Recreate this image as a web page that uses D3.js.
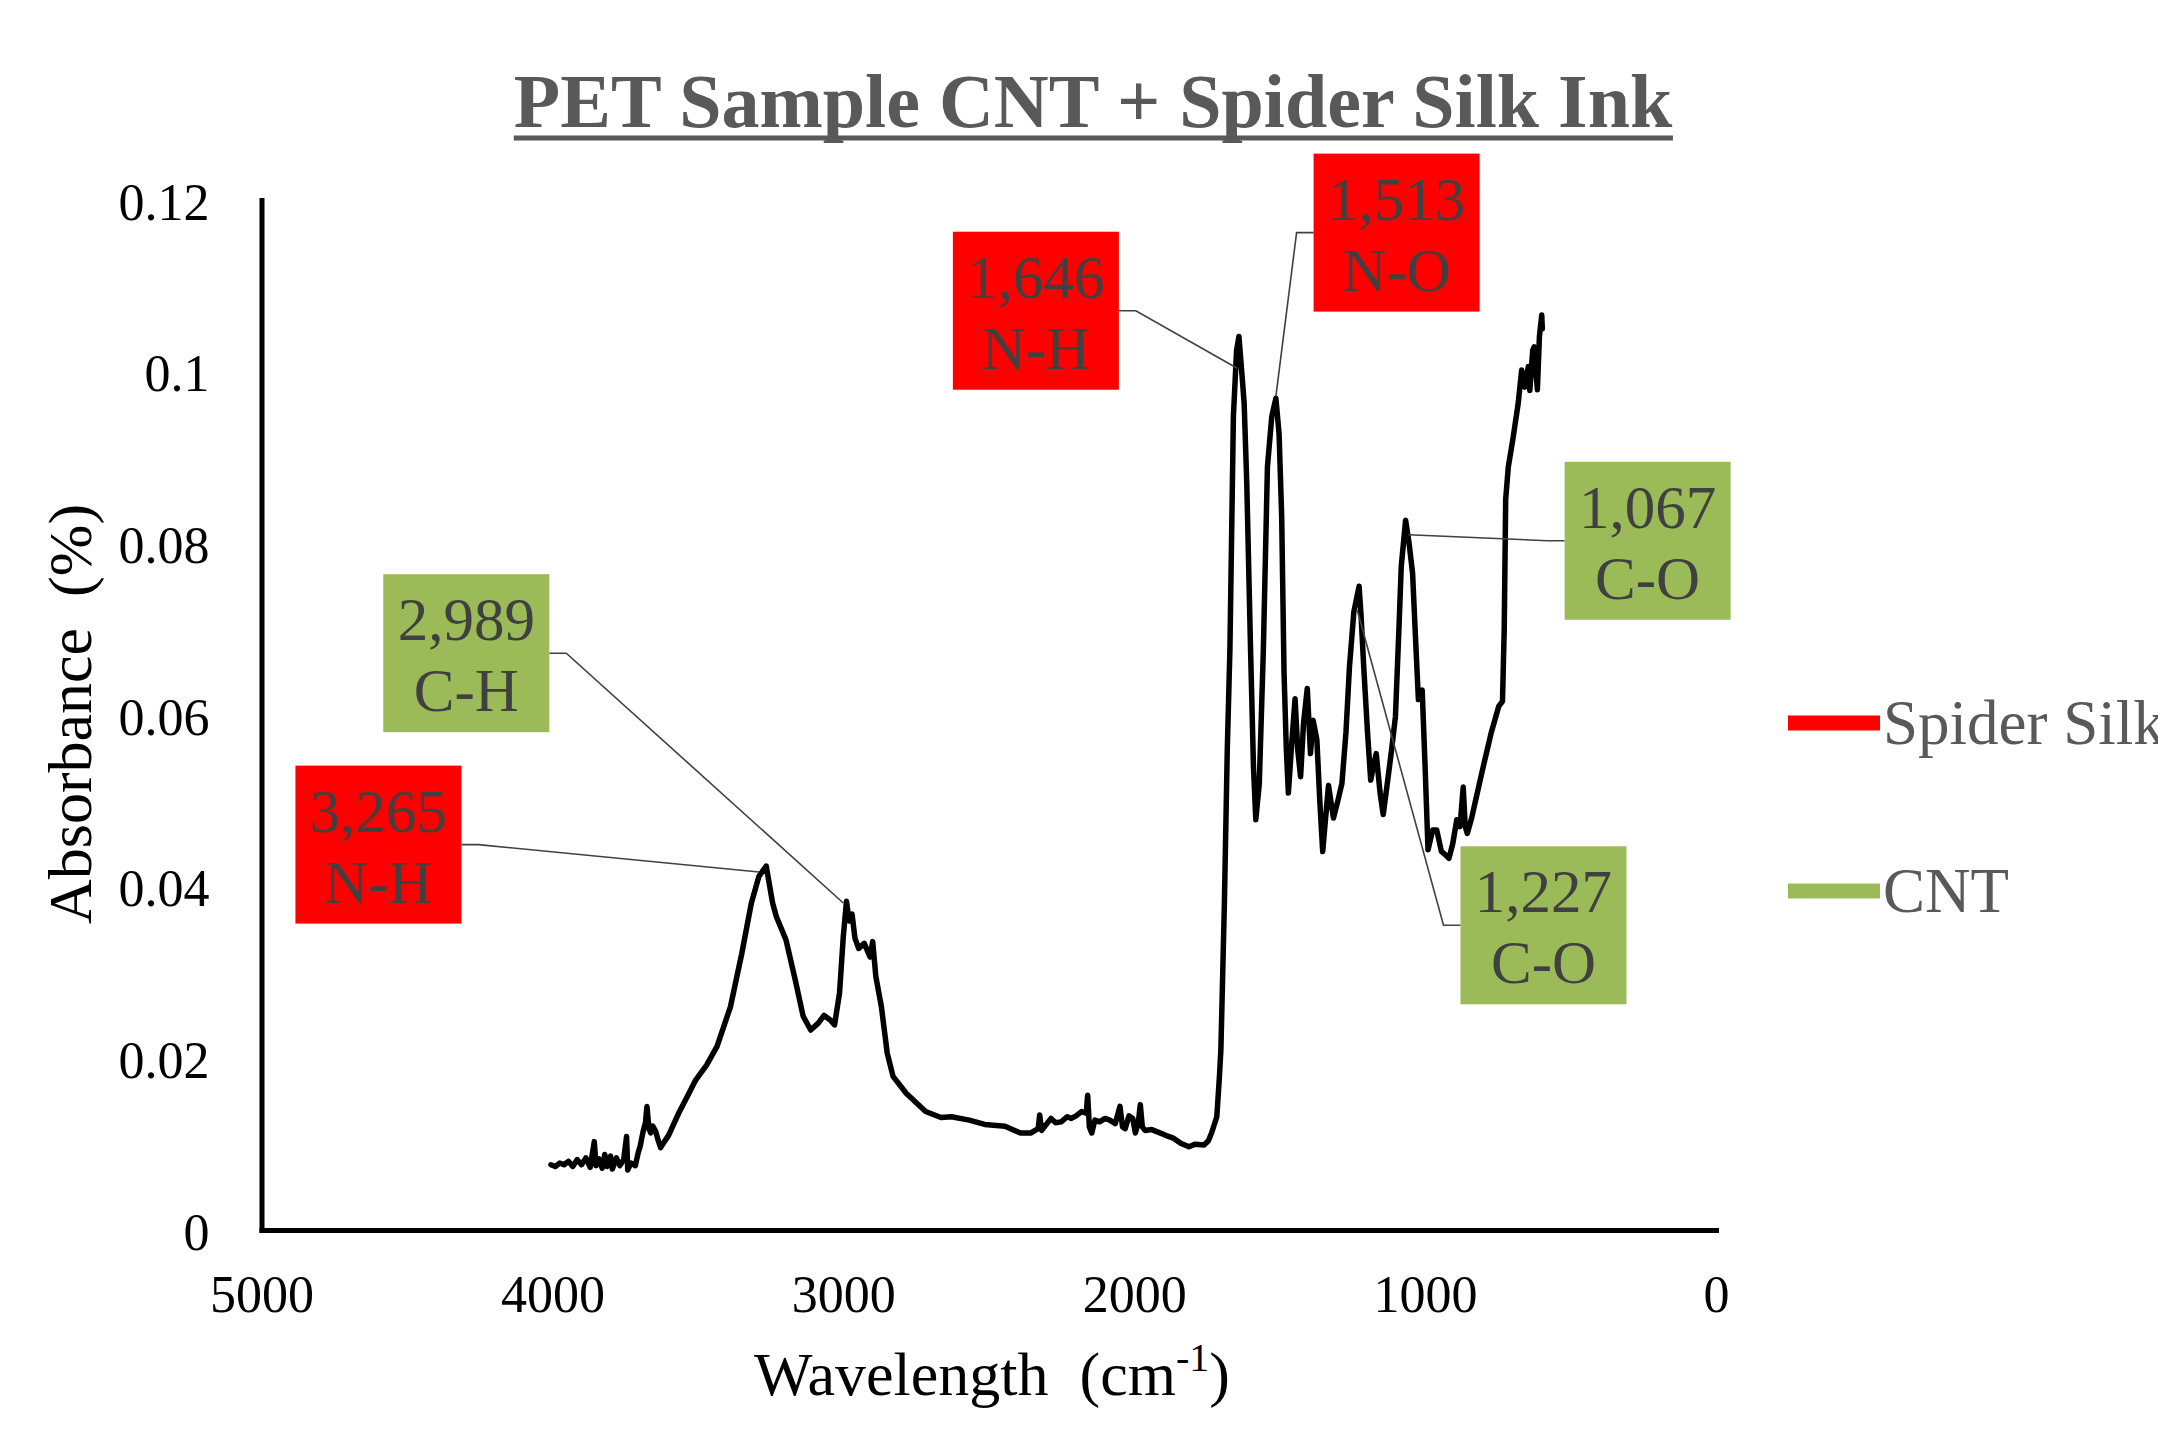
<!DOCTYPE html>
<html><head><meta charset="utf-8">
<script src="https://cdn.jsdelivr.net/npm/d3@7"></script>
<style>body{margin:0;background:#fff}svg{display:block}</style>
</head><body>
<svg id="chart" width="2158" height="1431"></svg>
<script>
// ---- data ----
const wavenumber = [4005,3990,3975,3960,3945,3930,3915,3900,3885,3870,3856,3850,3840,3829,3820,3812,3800,3794,3780,3768,3755,3745,3741,3730,3715,3705,3698,3688,3680,3675,3668,3662,3655,3645,3636,3628,3615,3601,3585,3566,3531,3507,3470,3434,3388,3349,3316,3290,3265,3243,3230,3197,3165,3138,3112,3086,3066,3046,3030,3013,3000,2989,2980,2970,2960,2947,2928,2908,2899,2888,2869,2849,2829,2783,2717,2664,2628,2567,2514,2444,2391,2356,2330,2325,2318,2300,2286,2270,2251,2230,2216,2200,2181,2165,2160,2154,2146,2135,2119,2100,2084,2065,2049,2040,2031,2018,2005,1996,1986,1979,1972,1962,1940,1918,1890,1865,1840,1812,1790,1760,1745,1734,1716,1707,1702,1690,1680,1671,1659,1648,1640,1628,1622,1613,1600,1590,1582,1570,1556,1542,1527,1513,1502,1493,1485,1477,1470,1460,1447,1438,1428,1418,1405,1394,1385,1372,1362,1352,1342,1332,1322,1315,1300,1286,1272,1260,1245,1227,1220,1211,1198,1187,1178,1168,1155,1144,1130,1115,1102,1090,1082,1067,1055,1043,1033,1023,1010,1000,990,974,960,944,930,918,905,891,880,869,862,855,840,826,800,773,747,734,728,723,714,697,680,668,657,645,640,630,625,614,607,599,597];
const absorbance = [0.0076,0.0074,0.0078,0.0076,0.0080,0.0074,0.0082,0.0076,0.0084,0.0073,0.0103,0.0075,0.0083,0.0072,0.0088,0.0074,0.0086,0.0071,0.0084,0.0075,0.0082,0.0109,0.0070,0.0078,0.0075,0.0090,0.0098,0.0115,0.0125,0.0144,0.0118,0.0113,0.0121,0.0115,0.0104,0.0096,0.0103,0.0110,0.0122,0.0136,0.0159,0.0175,0.0192,0.0214,0.0260,0.0322,0.0381,0.0412,0.0424,0.0381,0.0365,0.0338,0.0291,0.0249,0.0233,0.0241,0.0250,0.0245,0.0239,0.0276,0.0342,0.0383,0.0360,0.0368,0.0340,0.0328,0.0334,0.0318,0.0336,0.0295,0.0260,0.0206,0.0179,0.0159,0.0138,0.0131,0.0132,0.0128,0.0123,0.0121,0.0113,0.0113,0.0118,0.0134,0.0116,0.0124,0.0130,0.0125,0.0126,0.0132,0.0130,0.0133,0.0138,0.0136,0.0157,0.0120,0.0113,0.0128,0.0126,0.0130,0.0128,0.0124,0.0144,0.0120,0.0118,0.0133,0.0130,0.0113,0.0125,0.0146,0.0120,0.0116,0.0117,0.0114,0.0110,0.0107,0.0101,0.0097,0.0100,0.0099,0.0104,0.0113,0.0132,0.0179,0.0210,0.0380,0.0560,0.0676,0.0948,0.1025,0.1041,0.0990,0.0963,0.0870,0.0676,0.0540,0.0478,0.0520,0.0676,0.0889,0.0948,0.0969,0.0928,0.0831,0.0650,0.0560,0.0509,0.0560,0.0619,0.0560,0.0528,0.0590,0.0631,0.0555,0.0594,0.0571,0.0500,0.0441,0.0480,0.0518,0.0495,0.0480,0.0500,0.0520,0.0580,0.0656,0.0720,0.0750,0.0715,0.0656,0.0580,0.0524,0.0540,0.0555,0.0510,0.0484,0.0520,0.0560,0.0598,0.0700,0.0773,0.0827,0.0800,0.0765,0.0690,0.0618,0.0629,0.0540,0.0443,0.0466,0.0466,0.0441,0.0437,0.0433,0.0450,0.0478,0.0470,0.0516,0.0470,0.0462,0.0480,0.0501,0.0540,0.0579,0.0610,0.0616,0.0700,0.0851,0.0889,0.0924,0.0963,0.1002,0.0982,0.1006,0.0978,0.1025,0.1029,0.0979,0.1041,0.1066,0.1050];

const xTicks = [5000, 4000, 3000, 2000, 1000, 0];
const yTicks = [0, 0.02, 0.04, 0.06, 0.08, 0.1, 0.12];
const yTickLabels = ["0", "0.02", "0.04", "0.06", "0.08", "0.1", "0.12"];

const peakLabels = ["3,265", "2,989", "1,646", "1,513", "1,227", "1,067"];
const bondLabels = ["N-H", "C-H", "N-H", "N-O", "C-O", "C-O"];
const labelSeries = [0, 1, 0, 0, 1, 1];            // index into seriesNames
const targetWn  = [3290, 3000, 1646, 1513, 1233, 1057];
const targetAbs = [0.0417, 0.0381, 0.1004, 0.0971, 0.0722, 0.0810];
const boxWn  = [4598, 4296, 2338, 1098, 593, 235];
const boxAbs = [0.0449, 0.0672, 0.1071, 0.1162, 0.0355, 0.0803];

const seriesNames = ["Spider Silk", "CNT"];
const seriesColors = ["#FF0000", "#9BBB59"];

const titleText = "PET Sample CNT + Spider Silk Ink";
const yTitle = "Absorbance  (%)";
const xTitleMain = "Wavelength  (cm";
const xTitleSup = "-1";

// ---- drawing ----
const svg = d3.select("#chart");
const FONT = "'Liberation Serif','Times New Roman',serif";
const x = d3.scaleLinear().domain([5000, 0]).range([261.5, 1716]);
const y = d3.scaleLinear().domain([0, 0.12]).range([1230, 200]);

// title
const title = svg.append("text")
  .attr("x", 1093).attr("y", 127)
  .attr("text-anchor", "middle")
  .attr("font-family", FONT).attr("font-weight", "bold").attr("font-size", 76)
  .attr("fill", "#595959").text(titleText);
const tb = title.node().getBBox();
svg.append("line")
  .attr("x1", tb.x).attr("x2", tb.x + tb.width)
  .attr("y1", 138).attr("y2", 138)
  .attr("stroke", "#595959").attr("stroke-width", 5);

// axes
const xAxis = d3.axisBottom(x).tickValues(xTicks).tickSize(0).tickSizeOuter(0).tickFormat(d3.format("d"));
const gx = svg.append("g").attr("transform", `translate(0,${y(0)})`).call(xAxis);
gx.select(".domain").attr("stroke", "#000").attr("stroke-width", 5).attr("stroke-linecap", "square");
gx.selectAll("text").attr("font-family", FONT).attr("font-size", 52).attr("fill", "#000")
  .attr("y", 82).attr("dy", null);

const yAxis = d3.axisLeft(y).tickValues(yTicks).tickSize(0).tickSizeOuter(0)
  .tickFormat((d, i) => yTickLabels[i]);
const gy = svg.append("g").attr("transform", `translate(${x(5000)},0)`).call(yAxis);
gy.select(".domain").attr("stroke", "#000").attr("stroke-width", 5).attr("stroke-linecap", "square");
gy.selectAll("text").attr("font-family", FONT).attr("font-size", 52).attr("fill", "#000")
  .attr("x", -52).attr("dy", 19);
svg.selectAll(".tick line").remove();

// axis titles
svg.append("text")
  .attr("transform", `translate(91,714) rotate(-90)`)
  .attr("text-anchor", "middle")
  .attr("font-family", FONT).attr("font-size", 62).attr("fill", "#000")
  .style("white-space", "pre")
  .text(yTitle);

const xt = svg.append("text")
  .attr("x", 992).attr("y", 1395)
  .attr("text-anchor", "middle")
  .attr("font-family", FONT).attr("font-size", 62).attr("fill", "#000")
  .style("white-space", "pre");
xt.append("tspan").text(xTitleMain);
xt.append("tspan").attr("font-size", 40).attr("dy", -24).text(xTitleSup);
xt.append("tspan").attr("dy", 24).text(")");

// spectrum
const pts = wavenumber.map((w, i) => [w, absorbance[i]]);
const line = d3.line().x(d => x(d[0])).y(d => y(d[1]));
svg.append("path").datum(pts)
  .attr("d", line)
  .attr("fill", "none").attr("stroke", "#000").attr("stroke-width", 5.5)
  .attr("stroke-linejoin", "round").attr("stroke-linecap", "round");

// annotations
const BW = 166, BH = 158, STUB = 17;
peakLabels.forEach((lab, i) => {
  const cx = x(boxWn[i]), cy = y(boxAbs[i]);
  const tx = x(targetWn[i]), ty = y(targetAbs[i]);
  const left = cx < tx;
  const ex = left ? cx + BW / 2 : cx - BW / 2;
  const sx = left ? ex + STUB : ex - STUB;
  svg.append("path")
    .attr("d", d3.line()([[ex, cy], [sx, cy], [tx, ty]]))
    .attr("fill", "none").attr("stroke", "#404040").attr("stroke-width", 1.6);
  svg.append("rect")
    .attr("x", cx - BW / 2).attr("y", cy - BH / 2)
    .attr("width", BW).attr("height", BH)
    .attr("fill", seriesColors[labelSeries[i]]);
  const t = svg.append("text")
    .attr("text-anchor", "middle")
    .attr("font-family", FONT).attr("font-size", 61).attr("fill", "#404040");
  t.append("tspan").attr("x", cx).attr("y", cy - 13).text(lab);
  t.append("tspan").attr("x", cx).attr("y", cy + 58).text(bondLabels[i]);
});

// legend (text runs off the right edge, as in the reference)
const legendY = [723, 891];
seriesNames.forEach((name, i) => {
  svg.append("line")
    .attr("x1", 1788).attr("x2", 1880)
    .attr("y1", legendY[i]).attr("y2", legendY[i])
    .attr("stroke", seriesColors[i]).attr("stroke-width", 15);
  svg.append("text")
    .attr("x", 1883).attr("y", legendY[i] + 21)
    .attr("font-family", FONT).attr("font-size", 63).attr("fill", "#595959")
    .text(name);
});
</script>
</body></html>
